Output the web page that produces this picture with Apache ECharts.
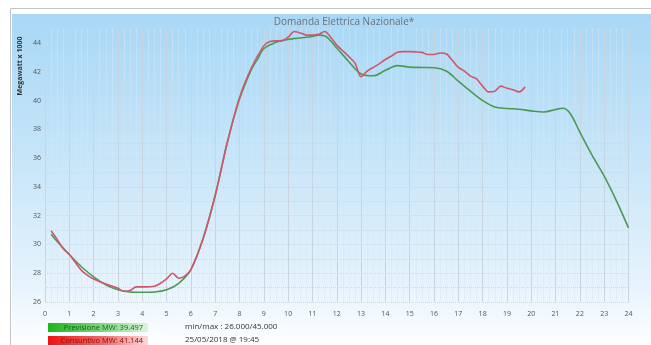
<!DOCTYPE html>
<html>
<head>
<meta charset="utf-8">
<script src="https://cdn.jsdelivr.net/npm/echarts@6/dist/echarts.min.js"></script>
<style>
html,body{margin:0;padding:0;background:#fff;}
#c{width:651px;height:345px;}
</style>
</head>
<body>
<div id="c"></div>
<script>
var titleText = 'Domanda Elettrica Nazionale*';
var yAxisName = 'Megawatt x 1000';
var xTicks = [0,1,2,3,4,5,6,7,8,9,10,11,12,13,14,15,16,17,18,19,20,21,22,23,24];
var yTicks = [26,28,30,32,34,36,38,40,42,44];

var previsioneHours = [0.25,0.5,1,1.5,2,2.5,3,3.5,4,4.5,5,5.5,6,6.5,7,7.5,8,8.5,8.75,9,9.5,10,10.5,11,11.25,11.5,12,12.5,13,13.5,14,14.5,15,15.5,16,16.5,17,17.5,18,18.5,19,19.5,20,20.5,21,21.3,21.6,22,22.5,23,23.5,24];
var previsioneValues = [30.7,30.2,29.3,28.45,27.75,27.2,26.85,26.7,26.68,26.7,26.85,27.3,28.25,30.4,33.4,37.1,40.1,42.2,42.9,43.6,44.05,44.25,44.35,44.45,44.55,44.5,43.65,42.7,41.85,41.72,42.1,42.43,42.32,42.3,42.28,42.05,41.35,40.65,40.0,39.55,39.45,39.4,39.28,39.2,39.38,39.46,39.1,37.8,36.2,34.75,33.05,31.15];

var consuntivoHours = [0.25,0.5,0.75,1,1.25,1.5,1.75,2,2.5,3,3.25,3.5,3.75,4,4.5,4.75,5,5.25,5.5,5.75,6,6.5,7,7.5,8,8.5,9,9.25,9.5,9.75,10,10.25,10.5,10.75,11,11.25,11.5,11.75,12,12.25,12.5,12.75,13,13.25,13.5,13.75,14,14.25,14.5,14.75,15,15.25,15.5,15.75,16,16.25,16.5,16.75,17,17.25,17.5,17.75,18,18.25,18.5,18.75,19,19.25,19.5,19.75];
var consuntivoValues = [30.95,30.35,29.7,29.3,28.75,28.2,27.85,27.6,27.25,26.95,26.75,26.8,27.05,27.05,27.1,27.3,27.6,28.0,27.65,27.8,28.25,30.4,33.4,37.1,40.2,42.3,43.8,44.1,44.15,44.15,44.4,44.8,44.7,44.55,44.55,44.6,44.8,44.4,43.85,43.45,43.05,42.6,41.65,42.05,42.3,42.55,42.85,43.1,43.35,43.4,43.4,43.38,43.35,43.2,43.2,43.3,43.25,42.8,42.3,42.05,41.7,41.5,41.0,40.6,40.65,41.0,40.85,40.75,40.6,40.95];

var previsioneLabel = 'Previsione MW: 39.497';
var consuntivoLabel = 'Consuntivo MW: 41.144';
var minMaxLabel = 'min/max : 26.000/45.000';
var dateLabel = '25/05/2018 @ 19:45';

function pairs(xs, ys){ return xs.map(function(x,i){ return [x, ys[i]]; }); }

var chart = echarts.init(document.getElementById('c'), null, {renderer:'canvas'});
var font = 'Open Sans, DejaVu Sans, sans-serif';
chart.setOption({
  animation:false,
  backgroundColor:'#ffffff',
  textStyle:{fontFamily:font},
  graphic:[
    {type:'rect', z:-10, silent:true, shape:{x:10.5,y:8.5,width:660,height:360}, style:{fill:'#ffffff', stroke:'#c4c4c4', lineWidth:1}},
    {type:'rect', z:-9, silent:true, shape:{x:12,y:14,width:650,height:340},
      style:{fill:new echarts.graphic.LinearGradient(0,0,0,1,[
        {offset:0,color:'#a8d7f5'},{offset:0.45,color:'#c9e6f9'},{offset:0.8,color:'#e6f3fc'},{offset:0.95,color:'#fbfdff'},{offset:1,color:'#ffffff'}])}},
    {type:'text', x:344, y:22.5, style:{text:titleText, fill:'#6b7378', font:'10px '+font, align:'center', verticalAlign:'middle'}},
    {type:'text', x:20, y:66, rotation:Math.PI/2, style:{text:yAxisName, fill:'#333', font:'bold 7px '+font, align:'center', verticalAlign:'middle'}},
    {type:'rect', shape:{x:48,y:323,width:100,height:9},
      style:{fill:new echarts.graphic.LinearGradient(0,0,1,0,[{offset:0,color:'#1fb51f'},{offset:0.55,color:'#7ed87e'},{offset:1,color:'#dff5df'}])}},
    {type:'text', x:143, y:327.5, style:{text:previsioneLabel, fill:'#1f5e1f', font:'7.5px '+font, align:'right', verticalAlign:'middle'}},
    {type:'rect', shape:{x:48,y:336,width:100,height:10},
      style:{fill:new echarts.graphic.LinearGradient(0,0,1,0,[{offset:0,color:'#ee1414'},{offset:0.55,color:'#f26a6a'},{offset:1,color:'#fbdada'}])}},
    {type:'text', x:143, y:341, style:{text:consuntivoLabel, fill:'#7a1010', font:'7.5px '+font, align:'right', verticalAlign:'middle'}},
    {type:'text', x:185, y:327, style:{text:minMaxLabel, fill:'#333', font:'8px '+font, verticalAlign:'middle'}},
    {type:'text', x:185, y:340, style:{text:dateLabel, fill:'#333', font:'8px '+font, verticalAlign:'middle'}}
  ],
  grid:{left:45, right:22.5, top:28.6, bottom:43, containLabel:false},
  xAxis:{
    type:'value', min:xTicks[0], max:xTicks[xTicks.length-1], interval:1,
    axisLine:{show:false}, axisTick:{show:false},
    axisLabel:{color:'#555', fontSize:7, margin:8},
    splitLine:{show:true, lineStyle:{color:'#c8d5de', width:1}},
    minorTick:{show:false, splitNumber:4},
    minorSplitLine:{show:true, lineStyle:{color:'#d6e7f1', width:1, type:'dotted'}}
  },
  yAxis:{
    type:'value', min:26, max:45, interval:2,
    axisLine:{show:false}, axisTick:{show:false},
    axisLabel:{color:'#555', fontSize:7, margin:4, showMaxLabel:false,
      formatter:function(v){ return yTicks.indexOf(v)>=0 ? String(v) : ''; }},
    splitLine:{show:true, lineStyle:{color:'#c5d9e6', width:1, type:'dotted'}},
    minorTick:{show:false, splitNumber:2},
    minorSplitLine:{show:true, lineStyle:{color:'#c5d9e6', width:1, type:'dotted'}}
  },
  series:[
    {name:'Previsione', type:'line', data:pairs(previsioneHours, previsioneValues), smooth:0.35, showSymbol:false,
      lineStyle:{color:'#4b9a52', width:1.6}},
    {name:'Consuntivo', type:'line', data:pairs(consuntivoHours, consuntivoValues), smooth:0.3, showSymbol:false,
      lineStyle:{color:'#d2566b', width:1.6}}
  ]
});
</script>
</body>
</html>
